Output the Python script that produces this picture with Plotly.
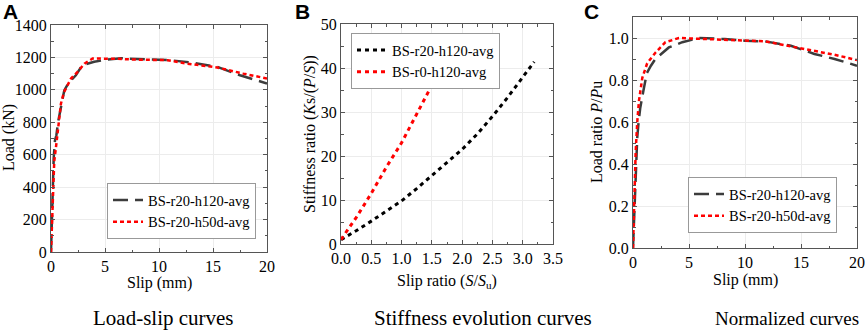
import plotly.graph_objects as go

W, H = 865, 335

# ---- Panel A: load-slip ----
a_h120_x = [0, 0.05, 0.15, 0.25, 0.37, 0.5, 0.65, 0.92, 1.23, 1.6, 2.3, 2.9, 4.0, 5.2, 6.5, 8.0, 10.0, 11.0, 12.9, 15.4, 17.5, 20.0]
a_h120_y = [0, 150, 320, 580, 690, 720, 800, 894, 997, 1040, 1090, 1152, 1173, 1187, 1195, 1190, 1183, 1183, 1169, 1142, 1090, 1039]
a_h50d_x = [0, 0.05, 0.12, 0.2, 0.3, 0.46, 0.68, 0.92, 1.2, 1.5, 1.85, 2.46, 3.1, 3.85, 4.9, 6.0, 7.7, 10.8, 12.6, 15.4, 17.8, 20.0]
a_h50d_y = [0, 100, 250, 450, 560, 646, 790, 915, 985, 1028, 1070, 1111, 1162, 1193, 1193, 1192, 1187, 1183, 1162, 1138, 1100, 1070]

# ---- Panel B: stiffness evolution ----
b_r20_x = [0, 0.1, 0.25, 0.5, 0.75, 1.0, 1.25, 1.5, 1.75, 2.0, 2.25, 2.5, 2.75, 3.0, 3.19]
b_r20_y = [1.0, 1.8, 3.0, 5.2, 7.5, 9.8, 12.6, 15.5, 18.5, 21.5, 25.0, 29.0, 33.3, 37.8, 41.4]
b_r0_x = [0, 0.1, 0.25, 0.5, 0.75, 1.0, 1.25, 1.4, 1.55]
b_r0_y = [1.0, 3.0, 6.0, 11.5, 17.5, 23.0, 29.5, 33.5, 37.4]

# ---- Panel C: normalized ----
c_h120_x = [0, 0.1, 0.25, 0.38, 0.5, 0.65, 0.92, 1.23, 1.6, 2.0, 3.2, 4.4, 5.9, 8.2, 10, 11.8, 14.1, 16.2, 18, 20]
c_h120_y = [0, 0.15, 0.35, 0.527, 0.6, 0.668, 0.746, 0.832, 0.868, 0.9, 0.955, 0.98, 1.0, 0.995, 0.987, 0.984, 0.963, 0.924, 0.9, 0.868]
c_h50d_x = [0, 0.1, 0.24, 0.38, 0.53, 0.83, 1.27, 2.0, 2.9, 4.1, 5, 6.7, 10, 11.8, 14.1, 16.2, 18, 20]
c_h50d_y = [0, 0.2, 0.46, 0.6, 0.7, 0.81, 0.88, 0.93, 0.98, 1.0, 0.998, 0.992, 0.987, 0.984, 0.96, 0.94, 0.92, 0.895]

names_a = ["BS-r20-h120-avg", "BS-r20-h50d-avg"]
names_b = ["BS-r20-h120-avg", "BS-r0-h120-avg"]
captions = ["Load-slip curves", "Stiffness evolution curves", "Normalized curves"]

SERIF = "Liberation Serif"
GREY = "#3c3c3c"
RED = "#ff0000"

def px_x(x):
    return x / W

def px_y(y):
    return 1 - y / H

# plot areas in pixels (left, right, top, bottom)
boxes = [(51, 267, 25, 252), (341, 553, 24, 244), (633, 857, 17, 248)]

fig = go.Figure()

def add(x, y, name, color, dash, width, ax, legend):
    fig.add_trace(go.Scatter(
        x=x, y=y, name=name, mode="lines",
        line=dict(color=color, dash=dash, width=width),
        xaxis="x" + ax, yaxis="y" + ax, legend=legend))

add(a_h120_x, a_h120_y, names_a[0], GREY, "15px,7px", 2.5, "", "legend")
add(a_h50d_x, a_h50d_y, names_a[1], RED, "4px,3px", 2.5, "", "legend")
add(b_r20_x, b_r20_y, names_b[0], "#000000", "4px,4px", 3, "2", "legend2")
add(b_r0_x, b_r0_y, names_b[1], RED, "4px,4px", 3, "2", "legend2")
add(c_h120_x, c_h120_y, names_a[0], GREY, "15px,7px", 2.5, "3", "legend3")
add(c_h50d_x, c_h50d_y, names_a[1], RED, "4px,3px", 2.5, "3", "legend3")

def axis(domain, rng, dtick, mdtick, fmt=None, anchor=None):
    d = dict(domain=domain, range=rng, dtick=dtick, tick0=0, automargin=False,
             showline=True, linecolor="#555555", linewidth=1, mirror="allticks",
             ticks="inside", ticklen=4, tickcolor="#555555",
             showgrid=True, gridcolor="#ececec", gridwidth=1, zeroline=False,
             tickfont=dict(family=SERIF, size=16, color="#000"),
             minor=dict(ticks="inside", ticklen=2.5, dtick=mdtick, tick0=0,
                        tickcolor="#555555", showgrid=False),
             anchor=anchor)
    if fmt:
        d["tickformat"] = fmt
    return d

lay = {}
specs = [
    ([0, 20], 5, 2.5, None, [0, 1400], 200, 100, None),
    ([0, 3.5], 0.5, 0.25, ".1f", [0, 50], 10, 5, None),
    ([0, 20], 5, 2.5, None, [0, 1.1], 0.2, 0.1, ".1f"),
]
for i, (box, sp) in enumerate(zip(boxes, specs)):
    l, r, t, b = box
    suf = "" if i == 0 else str(i + 1)
    xr, xd, xm, xf, yr, yd, ym, yf = sp
    lay["xaxis" + suf] = axis([px_x(l), px_x(r)], xr, xd, xm, xf, anchor="y" + suf)
    lay["yaxis" + suf] = axis([px_y(b), px_y(t)], yr, yd, ym, yf, anchor="x" + suf)

legend_pos = [(107, 183), (351, 33), (688, 177)]
for i, (lx, ly) in enumerate(legend_pos):
    key = "legend" if i == 0 else "legend" + str(i + 1)
    lay[key] = dict(x=px_x(lx), y=px_y(ly), xanchor="left", yanchor="top",
                    bgcolor="white", bordercolor="#999999", borderwidth=1,
                    font=dict(family=SERIF, size=14.5, color="#000"),
                    tracegroupgap=0, itemwidth=30)

ann = []
def text(x, y, s, size=16, angle=0, family=SERIF, color="#000"):
    ann.append(dict(x=px_x(x), y=px_y(y), xref="paper", yref="paper", text=s,
                    showarrow=False, textangle=angle, xanchor="center", yanchor="middle",
                    font=dict(family=family, size=size, color=color)))

# axis titles
text(159, 283, "Slip (mm)")
text(9, 138, "Load (kN)", angle=-90)
text(447, 281, "Slip ratio (<i>S</i>/<i>S</i><sub>u</sub>)")
text(310, 134, "Stiffness ratio (<i>K</i>s/(<i>P</i>/<i>S</i>))", angle=-90)
text(745, 280, "Slip (mm)")
text(596, 132, "Load ratio <i>P</i>/<i>P</i>u", angle=-90)

# panel letters
for lx, s in [(10, "A"), (302, "B"), (591, "C")]:
    text(lx, 11, "<b>" + s + "</b>", size=21, family="Liberation Sans")

# captions
for cx, s, fs in zip([163, 483, 787], captions, [21, 21, 19]):
    text(cx, 318, s, size=fs)

fig.update_layout(width=W, height=H, margin=dict(l=0, r=0, t=0, b=0),
                  paper_bgcolor="white", plot_bgcolor="white",
                  showlegend=True, annotations=ann, **lay)

fig.write_html("out.html", config={"displayModeBar": False},
               post_script="document.body.style.margin='0';document.body.style.overflow='hidden';")
